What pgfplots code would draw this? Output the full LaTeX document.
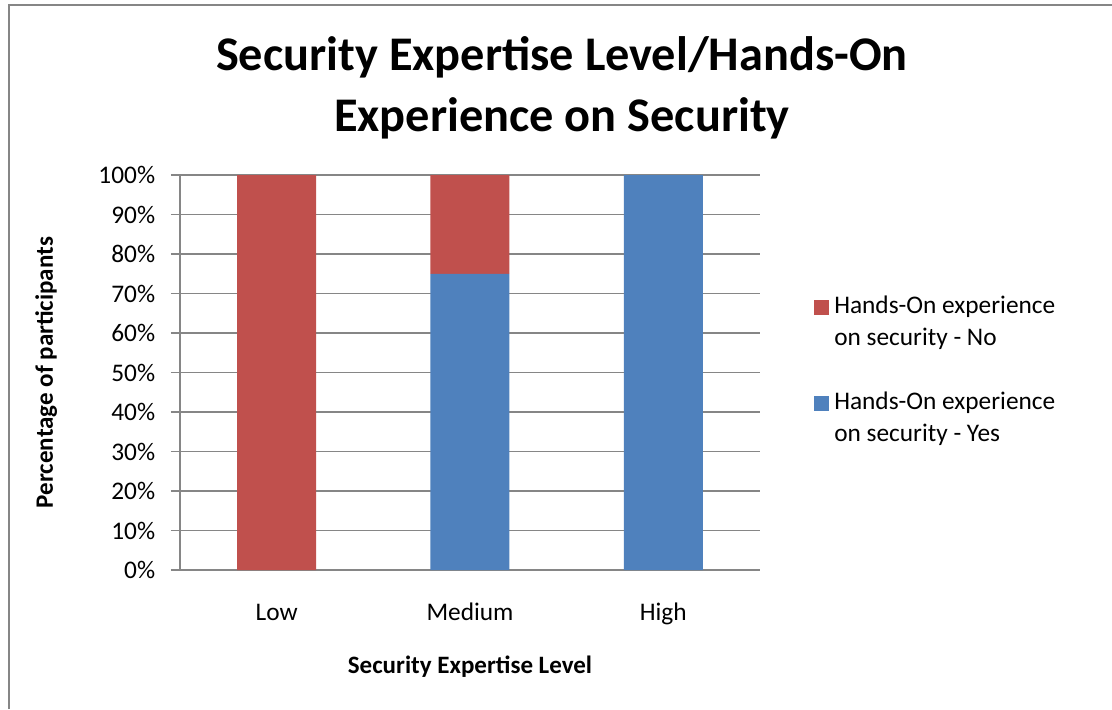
\documentclass[border=0pt]{standalone}
\usepackage{pgfplots}
\pgfplotsset{compat=1.18}
\usepackage{fontspec}
\setmainfont{Carlito}
\definecolor{cRed}{HTML}{C0504D}
\definecolor{cBlue}{HTML}{4F81BD}
\definecolor{cGrid}{HTML}{868686}
\begin{document}
\begin{tikzpicture}[x=0.6pt,y=0.6pt]
\path[use as bounding box] (0,0) rectangle (1112,709);
\draw[cGrid, line width=1.2pt] (9,0) -- (9,704) -- (1112,704);
\node[font=\bfseries\fontsize{29}{36.6}\selectfont, align=center] at (562,621.5) {Security Expertise Level/Hands-On\\Experience on Security};
\begin{axis}[
  at={(108pt,83.4pt)}, anchor=south west,
  scale only axis, width=348pt, height=237pt,
  ybar stacked, bar width=47.4pt,
  xmin=-0.5, xmax=2.5, ymin=0, ymax=100,
  xtick={0,1,2}, xticklabels={Low,Medium,High},
  ytick={0,10,...,100},
  yticklabel={\pgfmathprintnumber{\tick}\%},
  /pgf/number format/assume math mode=true,
  ymajorgrids, grid style={cGrid, line width=0.8pt},
  axis x line=bottom, axis y line=left,
  axis line style={-, cGrid, line width=0.8pt},
  x axis line style={shorten <=-5.4pt},
  tick align=outside, major tick length=5.4pt,
  xtick style={draw=none}, ytick style={cGrid, line width=0.8pt},
  tick label style={font=\fontsize{15.2}{18}\selectfont},
  yticklabel style={xshift=-6pt},
  xticklabel style={anchor=base, yshift=-25pt},
  label style={font=\bfseries\fontsize{15}{18}\selectfont},
  xlabel={Security Expertise Level},
  xlabel style={at={(axis description cs:0.5,-0.262)}, anchor=base},
  ylabel={Percentage of participants},
  ylabel style={at={(axis description cs:-0.219,0.5)}, anchor=base},
  reverse legend,
  legend cell align=left,
  legend style={at={(axis description cs:1.093,0.703)}, anchor=north west, draw=none, fill=none,
    font=\fontsize{15.2}{19.2}\selectfont, nodes={align=left, inner xsep=3pt}, row sep=22.2pt, inner sep=0pt},
  legend image code/.code={\fill[#1] (0pt,4.2pt) rectangle (9pt,13.2pt);},
]
\addplot[fill=cBlue, draw=none] coordinates {(0,0) (1,75) (2,100)};
\addplot[fill=cRed, draw=none] coordinates {(0,100) (1,25) (2,0)};
\legend{Hands-On experience\\on security - Yes, Hands-On experience\\on security - No}
\end{axis}
\end{tikzpicture}
\end{document}
